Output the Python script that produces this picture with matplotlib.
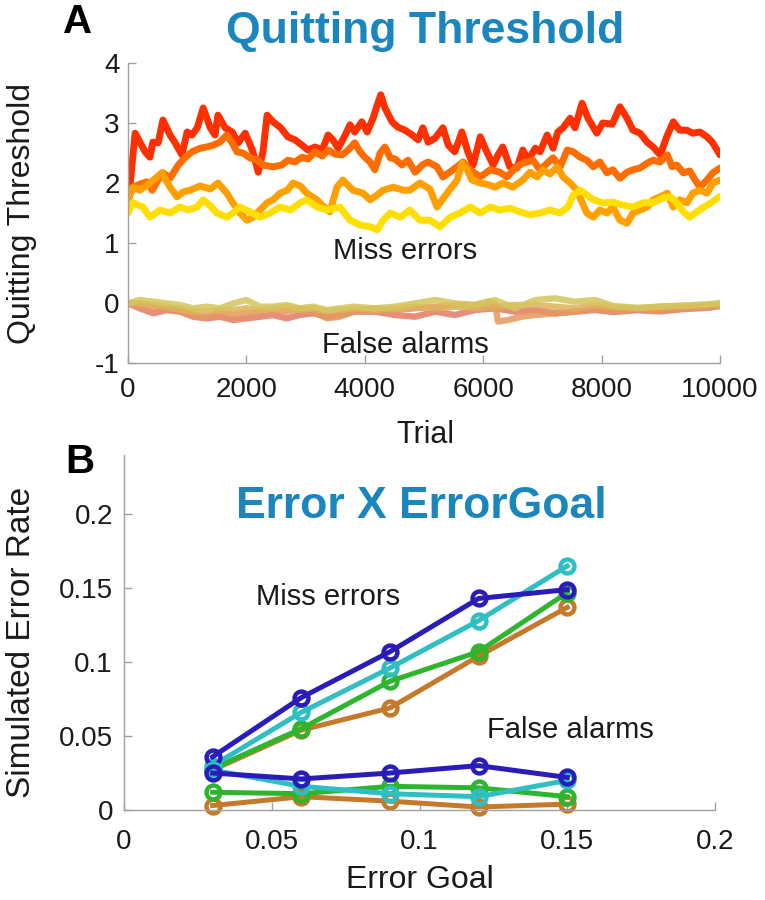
import matplotlib
matplotlib.use("Agg")
import matplotlib.pyplot as plt
from matplotlib import font_manager

# ---------------- data: panel A (quitting threshold vs trial) ----------------
red_t = [0,120,290,370,420,510,590,710,790,910,1000,1080,1170,1270,1390,1470,1520,1640,1760,1860,
         1980,2100,2200,2280,2350,2450,2580,2700,2820,2940,3040,3160,3280,3380,3460,3550,3670,3750,3830,3950,
         4040,4140,4210,4270,4340,4460,4560,4680,4800,4900,4980,5070,5190,5320,5410,5520,5640,5740,5830,5950,
         6060,6170,6250,6330,6450,6570,6670,6760,6880,6960,7080,7180,7260,7350,7470,7550,7670,7770,7920,8020,
         8180,8310,8430,8530,8650,8770,8870,8990,9100,9210,9320,9440,9540,9660,9780,9870,10000]
red_v = [1.62,2.83,2.52,2.43,2.68,2.67,3.05,2.8,2.68,2.47,2.85,2.8,2.92,3.25,2.92,2.8,3.13,2.92,2.85,2.67,
         2.83,2.55,2.18,2.52,3.13,3.02,2.92,2.77,2.72,2.63,2.55,2.6,2.55,2.8,2.72,2.58,2.8,2.97,2.85,3.02,
         2.85,3.08,3.3,3.47,3.25,3.02,2.93,2.88,2.8,2.72,2.92,2.68,2.75,2.92,2.63,2.52,2.85,2.52,2.3,2.77,
         2.52,2.3,2.47,2.6,2.27,2.25,2.55,2.38,2.58,2.52,2.8,2.58,2.85,2.92,3.08,2.92,3.33,3.08,2.83,3.0,
         2.98,3.27,3.08,2.88,2.83,2.68,2.6,2.47,2.77,3.02,2.88,2.88,2.83,2.85,2.77,2.68,2.47]

orange_t = [0,80,200,320,410,510,590,710,850,960,1080,1220,1330,1440,1550,1670,1760,1840,1940,2060,
            2180,2280,2450,2600,2700,2820,2940,3040,3160,3280,3380,3500,3620,3720,3830,3920,4000,4090,4170,4260,
            4340,4430,4510,4630,4730,4850,4970,5070,5220,5320,5490,5660,5780,5950,6120,6280,6400,6540,6670,6840,
            6960,7080,7180,7300,7420,7520,7640,7750,7860,7970,8090,8190,8310,8430,8530,8650,8770,8870,8990,9110,
            9190,9270,9380,9490,9580,9660,9780,9880,10000]
orange_v = [1.72,1.93,1.98,2.02,1.88,2.05,2.17,2.08,2.3,2.42,2.52,2.58,2.6,2.63,2.68,2.8,2.67,2.52,2.5,2.42,
            2.38,2.3,2.27,2.3,2.38,2.35,2.43,2.4,2.52,2.45,2.55,2.48,2.47,2.55,2.67,2.52,2.43,2.35,2.22,2.5,
            2.6,2.42,2.4,2.3,2.38,2.18,2.3,2.35,2.27,2.1,2.22,2.35,2.22,2.1,2.22,2.18,2.1,2.25,2.33,2.38,
            2.22,2.33,2.42,2.27,2.55,2.52,2.43,2.38,2.27,2.35,2.17,2.22,2.08,2.18,2.22,2.25,2.33,2.38,2.35,2.47,
            2.27,2.3,2.17,2.2,2.05,1.93,2.05,2.17,2.25]

lorange_t = [0,80,200,370,490,570,710,830,930,1050,1220,1390,1520,1670,1770,1890,2010,2110,2230,2350,
             2450,2570,2690,2790,2910,3020,3190,3290,3410,3530,3630,3800,3970,4090,4210,4310,4480,4650,4760,4930,
             5100,5220,5390,5560,5640,5730,5810,5950,6060,6200,6330,6500,6670,6790,6910,7010,7130,7250,7350,7470,
             7580,7750,7860,7970,8090,8190,8310,8430,8530,8650,8770,8870,8990,9110,9210,9320,9440,9540,9660,9780,
             9880,10000]
lorange_v = [1.72,1.93,1.88,2.0,2.1,2.17,1.93,1.77,1.85,1.88,1.95,1.9,2.0,1.83,1.67,1.5,1.38,1.43,1.55,1.67,
             1.72,1.83,1.88,2.0,1.95,1.83,1.72,1.62,1.52,1.93,2.05,1.88,1.83,1.72,1.8,1.88,1.93,1.88,1.88,2.0,
             1.9,1.6,1.83,2.05,2.33,2.22,2.05,2.0,1.98,1.93,2.0,1.93,2.05,2.18,2.1,2.22,2.15,2.27,2.1,2.0,
             1.88,1.5,1.43,1.55,1.5,1.6,1.38,1.33,1.5,1.55,1.6,1.72,1.77,1.83,1.6,1.72,1.67,1.83,1.88,1.83,
             2.0,2.05]

yellow_t = [0,80,250,370,540,710,880,1010,1170,1270,1390,1500,1670,1770,1890,2060,2230,2400,2570,2740,
            2910,3020,3190,3360,3580,3750,3920,4090,4210,4310,4430,4600,4760,4930,5100,5270,5440,5610,5780,5950,
            6120,6280,6450,6620,6790,6960,7130,7300,7430,7520,7640,7750,7860,8020,8190,8360,8530,8700,8870,9040,
            9160,9270,9380,9490,9610,9730,9850,10000]
yellow_v = [1.5,1.67,1.6,1.43,1.55,1.5,1.6,1.55,1.6,1.72,1.62,1.5,1.43,1.5,1.6,1.52,1.43,1.5,1.6,1.55,
            1.67,1.72,1.6,1.55,1.6,1.38,1.3,1.27,1.22,1.38,1.5,1.43,1.55,1.38,1.38,1.27,1.43,1.5,1.6,1.5,
            1.6,1.55,1.58,1.52,1.47,1.5,1.55,1.5,1.6,1.8,1.88,1.8,1.72,1.67,1.68,1.63,1.6,1.67,1.67,1.75,
            1.77,1.67,1.52,1.43,1.52,1.6,1.67,1.78]

# false-alarm thresholds
fa_t = [0,200,430,650,880,1100,1330,1550,1780,2000,2230,2450,2680,2900,3130,3360,3580,3810,
        4170,4510,4850,5190,5520,5860,6200,6540,6880,7210,7550,7890,8200,8600,9000,9400,9800,10000]
fa_red_v = [-0.006,-0.089,-0.172,-0.117,-0.144,-0.228,-0.256,-0.228,-0.283,-0.256,-0.228,-0.2,-0.256,-0.2,
            -0.172,-0.228,-0.2,-0.144,-0.144,-0.2,-0.228,-0.144,-0.2,-0.117,-0.089,-0.144,-0.117,-0.172,
            -0.144,-0.117,-0.15,-0.12,-0.14,-0.1,-0.08,-0.05]
fa_lorange_v = [-0.006,-0.006,-0.033,-0.061,-0.117,-0.144,-0.144,-0.117,-0.117,-0.089,-0.117,-0.089,-0.061,
                -0.117,-0.089,-0.144,-0.117,-0.089,-0.117,-0.089,-0.061,-0.089,-0.061,-0.089,-0.061,-0.033,
                -0.033,-0.061,-0.089,-0.033,-0.07,-0.09,-0.06,-0.05,-0.04,-0.02]
fa_yellow_v = [-0.006,0.05,0.022,-0.006,-0.033,-0.089,-0.061,-0.089,-0.006,0.05,-0.061,-0.061,-0.033,-0.089,
               -0.061,-0.117,-0.089,-0.061,-0.089,-0.061,-0.006,0.05,-0.006,-0.033,0.05,-0.089,0.05,0.078,
               0.022,0.05,-0.05,-0.08,-0.06,-0.04,-0.02,0.0]
fa_orange_t = [0,200,430,650,880,1100,1330,1550,1780,2000,2230,2450,2680,2900,3130,3360,3580,3810,
               4170,4510,4850,5190,5520,5860,6090,6200,6250,6420,6650,6880,7210,7550,7890,
               8200,8600,9000,9400,9800,10000]
fa_orange_v = [-0.006,-0.033,-0.061,-0.089,-0.089,-0.2,-0.228,-0.172,-0.2,-0.172,-0.144,-0.117,-0.144,-0.089,
               -0.144,-0.256,-0.228,-0.144,-0.089,-0.117,-0.089,-0.061,-0.033,-0.033,0.022,-0.006,-0.31,
               -0.283,-0.228,-0.2,-0.172,-0.144,-0.089,-0.12,-0.1,-0.12,-0.08,-0.06,-0.03]

a_xticks = [0, 2000, 4000, 6000, 8000, 10000]
a_xticklabels = ["0", "2000", "4000", "6000", "8000", "10000"]
a_yticks = [-1, 0, 1, 2, 3, 4]
a_yticklabels = ["-1", "0", "1", "2", "3", "4"]

# ---------------- data: panel B (simulated error rate vs error goal) ----------------
goals = [0.03, 0.06, 0.09, 0.12, 0.15]
miss_blue = [0.036, 0.076, 0.107, 0.143, 0.149]
miss_cyan = [0.030, 0.066, 0.096, 0.128, 0.165]
miss_green = [0.028, 0.055, 0.087, 0.107, 0.147]
miss_brown = [0.027, 0.054, 0.069, 0.104, 0.137]
fa_blue = [0.025, 0.021, 0.025, 0.030, 0.022]
fa_cyan = [0.027, 0.016, 0.011, 0.009, 0.020]
fa_green = [0.012, 0.011, 0.016, 0.015, 0.009]
fa_brown = [0.003, 0.009, 0.006, 0.002, 0.004]

b_ticks = [0, 0.05, 0.1, 0.15, 0.2]
b_ticklabels = ["0", "0.05", "0.1", "0.15", "0.2"]

# ---------------- styling ----------------
names = {f.name for f in font_manager.fontManager.ttflist}
FONT = "Liberation Sans" if "Liberation Sans" in names else "DejaVu Sans"
plt.rcParams["font.family"] = [FONT, "DejaVu Sans"]
plt.rcParams["axes.unicode_minus"] = False

W, H = 765, 900
fig = plt.figure(figsize=(W / 100, H / 100), dpi=100)

def fx(px):
    return px / W

def fy(py):
    return 1 - py / H

SPINE = "#a0a0a0"
TXT = "#1a1a1a"
TITLE = "#1a86bd"

def style(ax):
    for s in ("top", "right"):
        ax.spines[s].set_visible(False)
    for s in ("left", "bottom"):
        ax.spines[s].set_color(SPINE)
        ax.spines[s].set_linewidth(1.0)
    ax.tick_params(direction="in", length=6, width=1, color=SPINE,
                   labelcolor=TXT, labelsize=20)
    ax.set_facecolor("none")

# Panel A
axA = fig.add_axes([fx(128), fy(363), fx(720) - fx(128), fy(63) - fy(363)])
style(axA)
lw = 5.0
for t, v, c in [(red_t, red_v, "#ff3000"), (orange_t, orange_v, "#ff6c00"),
                (lorange_t, lorange_v, "#ffa000"), (yellow_t, yellow_v, "#ffdf00")]:
    axA.plot(t, v, color=c, lw=lw, solid_joinstyle="round", solid_capstyle="round")
for t, v, c in [(fa_t, fa_red_v, "#e27a62"), (fa_orange_t, fa_orange_v, "#e6985e"),
                (fa_t, fa_lorange_v, "#ddb25c"), (fa_t, fa_yellow_v, "#d4c65c")]:
    axA.plot(t, v, color=c, lw=4.6, alpha=0.85, solid_joinstyle="round")
axA.set_xlim(0, 10000)
axA.set_ylim(-1, 4)
axA.set_xticks(a_xticks)
axA.set_xticklabels(a_xticklabels)
axA.set_yticks(a_yticks)
axA.set_yticklabels(a_yticklabels)
axA.tick_params(axis="x", pad=10)
axA.tick_params(axis="y", pad=6)
axA.text(4680, 0.87, "Miss errors", ha="center", va="center", fontsize=21, color=TXT)
axA.text(4680, -0.7, "False alarms", ha="center", va="center", fontsize=21, color=TXT)

# Panel B
axB = fig.add_axes([fx(124), fy(810), fx(715) - fx(124), fy(455) - fy(810)])
style(axB)
for yv, c in [(miss_brown, "#c47a2a"), (miss_green, "#2db52d"),
              (miss_cyan, "#2fbfc2"), (miss_blue, "#2a1cb8")]:
    axB.plot(goals, yv, color=c, lw=3.6, marker="o", ms=10, mfc="none", mew=3.2, clip_on=False)
for yv, c in [(fa_brown, "#c47a2a"), (fa_green, "#2db52d"),
              (fa_cyan, "#2fbfc2"), (fa_blue, "#2a1cb8")]:
    axB.plot(goals, yv, color=c, lw=3.6, marker="o", ms=10, mfc="none", mew=3.2, clip_on=False)
axB.set_xlim(0, 0.2)
axB.set_ylim(0, 0.24)
axB.set_xticks(b_ticks)
axB.set_xticklabels(b_ticklabels)
axB.set_yticks(b_ticks)
axB.set_yticklabels(b_ticklabels)
axB.tick_params(axis="x", pad=14)
axB.tick_params(axis="y", pad=8)
axB.text(0.069, 0.144, "Miss errors", ha="center", va="center", fontsize=21, color=TXT)
axB.text(0.151, 0.054, "False alarms", ha="center", va="center", fontsize=21, color=TXT)

# texts
fig.text(fx(425), fy(31), "Quitting Threshold", ha="center", va="center",
         fontsize=32, fontweight="bold", color=TITLE)
fig.text(fx(421), fy(507), "Error X ErrorGoal", ha="center", va="center",
         fontsize=32, fontweight="bold", color=TITLE)
fig.text(fx(78), fy(22), "A", ha="center", va="center", fontsize=29, fontweight="bold", color="black")
fig.text(fx(80), fy(462), "B", ha="center", va="center", fontsize=29, fontweight="bold", color="black")
fig.text(fx(22), fy(213), "Quitting Threshold", rotation=90, ha="center", va="center",
         fontsize=23, color=TXT)
fig.text(fx(22), fy(642), "Simulated Error Rate", rotation=90, ha="center", va="center",
         fontsize=24, color=TXT)
fig.text(fx(425), fy(435), "Trial", ha="center", va="center", fontsize=22, color=TXT)
fig.text(fx(420), fy(880), "Error Goal", ha="center", va="center", fontsize=23, color=TXT)

fig.savefig("out.png", dpi=100, facecolor="white")
